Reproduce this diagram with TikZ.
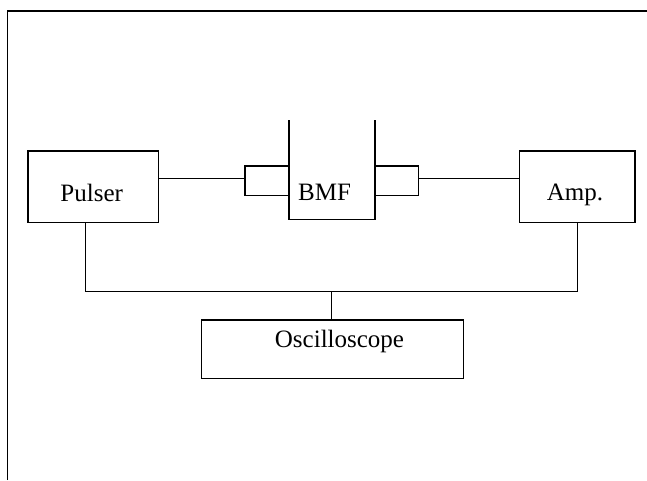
\documentclass[tikz,border=0pt]{standalone}
\usepackage{fontspec}
\setmainfont{Liberation Serif}
\begin{document}
\begin{tikzpicture}[x=1pt,y=-1pt,line width=1.6pt,
  blk/.style={draw,rectangle,inner sep=0pt},
  lbl/.style={anchor=base,inner sep=0pt,font=\fontsize{25}{29}\selectfont}]
\useasboundingbox (0,0) rectangle (647,480);
% frame (top and left only)
\draw[line width=1.6pt] (7.3,480) -- (7.3,11) -- (647,11);
% boxes
\node[blk,minimum width=130.6pt,minimum height=71.6pt] (pulser) at (93,186.5) {};
\node[blk,minimum width=115.3pt,minimum height=71.6pt] (amp) at (577.3,186.5) {};
\node[blk,minimum width=262pt,minimum height=58.3pt] (osc) at (332.5,349.2) {};
\node[blk,minimum width=43.7pt,minimum height=29.3pt] (lport) at (266.85,180.65) {};
\node[blk,minimum width=43.6pt,minimum height=29.3pt] (rport) at (396.5,180.65) {};
% BMF vessel
\draw (288.7,120) -- (288.7,219.3) -- (374.7,219.3) -- (374.7,120);
% labels
\node[lbl] (tpulser) at (91.7,201) {Pulser};
\node[lbl] (tamp) at (575,200.5) {Amp.};
\node[lbl] (tbmf) at (324.5,200) {BMF};
\node[lbl] (tosc) at (339.5,347.5) {Oscilloscope};
% connectors
\coordinate (pa) at (pulser.east |- 0,178.3);
\coordinate (pb) at (lport.west |- 0,178.3);
\draw (pa) -- (pb);
\coordinate (aa) at (rport.east |- 0,178.3);
\coordinate (ab) at (amp.west |- 0,178.3);
\draw (aa) -- (ab);
\coordinate (bl) at (85.3,291.3);
\coordinate (br) at (577.3,291.3);
\coordinate (bm) at (331.5,291.3);
\draw (pulser.south -| bl) -- (bl) -- (br) -- (amp.south -| br);
\draw (bm) -- (osc.north -| bm);
\end{tikzpicture}
\end{document}
